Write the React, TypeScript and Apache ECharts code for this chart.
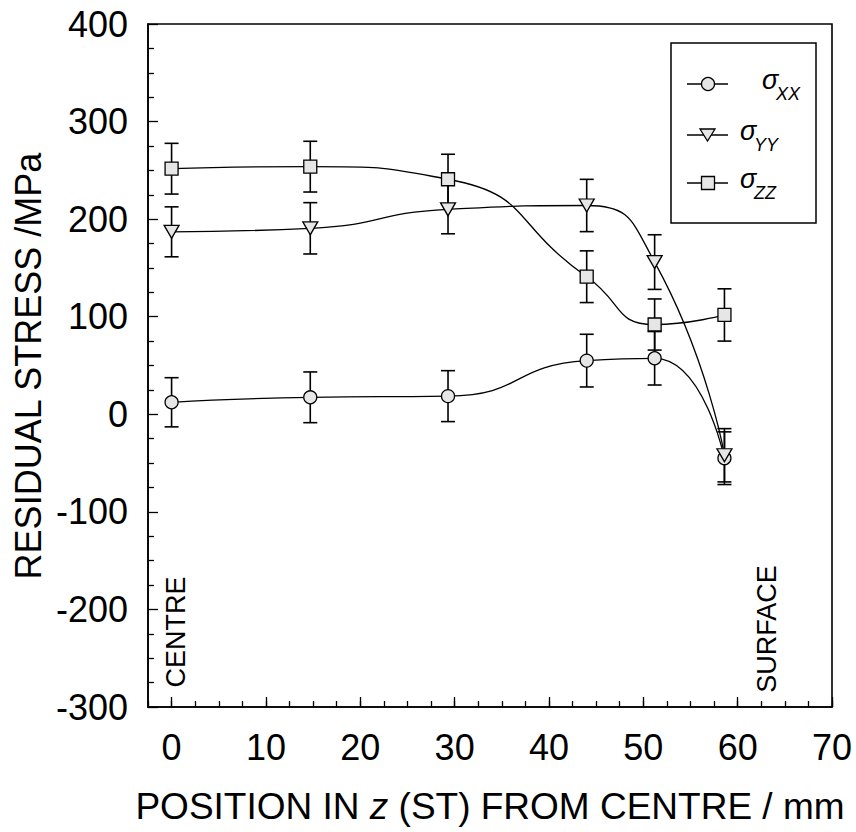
import React, { useEffect, useRef } from "react";
import * as echarts from "echarts";

// positions (mm from centre)
const xPos = [0, 14.7, 29.3, 44.0, 51.2, 58.6];
// sigma XX
const sxx = [12.3, 17.4, 18.6, 55, 57.4, -45];
const sxxErr = [25.2, 26, 26.1, 27, 27.4, 27];
// sigma YY
const syy = [187, 190.6, 210, 214, 156, -42];
const syyErr = [25.6, 26.3, 25, 26.8, 28, 27.3];
// sigma ZZ
const szz = [251.7, 253.8, 240.9, 141, 92, 101.8];
const szzErr = [26, 26, 25.6, 26.5, 26.2, 26.8];

const xMajorTicks = [0, 10, 20, 30, 40, 50, 60, 70];

const FONT = "Liberation Sans, Arial, Helvetica, sans-serif";
const FILL = "#e6e6e6";

function errData(vals: number[], errs: number[]) {
  return xPos.map((x, i) => [x, vals[i] - errs[i], vals[i] + errs[i]]);
}

function errSeries(vals: number[], errs: number[]) {
  return {
    type: "custom",
    z: 2,
    silent: true,
    data: errData(vals, errs),
    encode: { x: 0, y: [1, 2] },
    renderItem: (params: any, api: any) => {
      const x = api.value(0);
      const p1 = api.coord([x, api.value(1)]);
      const p2 = api.coord([x, api.value(2)]);
      const hw = 7;
      const st = { stroke: "#000", lineWidth: 1.6 };
      return {
        type: "group",
        children: [
          { type: "line", shape: { x1: p1[0], y1: p1[1], x2: p2[0], y2: p2[1] }, style: st },
          { type: "line", shape: { x1: p1[0] - hw, y1: p1[1], x2: p1[0] + hw, y2: p1[1] }, style: st },
          { type: "line", shape: { x1: p2[0] - hw, y1: p2[1], x2: p2[0] + hw, y2: p2[1] }, style: st },
        ],
      };
    },
  };
}

function lineSeries(name: string, vals: number[], symbol: string, size: any, rotate = 0) {
  return {
    name,
    type: "line",
    z: 3,
    smooth: 0.55,
    data: xPos.map((x, i) => [x, vals[i]]),
    symbol,
    symbolSize: size,
    symbolRotate: rotate,
    showAllSymbol: true,
    lineStyle: { color: "#000", width: 1.3 },
    itemStyle: { color: FILL, borderColor: "#000", borderWidth: 1.3 },
  };
}

function legendRow(y: number, symbol: any, sx: number, sub: string) {
  return [
    { type: "line", shape: { x1: 687, y1: y, x2: 728, y2: y }, style: { stroke: "#000", lineWidth: 1.4 } },
    symbol,
    {
      type: "text",
      x: sx,
      y: y - 4,
      style: { text: "σ", font: `italic 27px ${FONT}`, fill: "#000", textAlign: "left", textVerticalAlign: "middle" },
    },
    {
      type: "text",
      x: sx + 14,
      y: y + 10,
      style: { text: sub, font: `italic 18px ${FONT}`, fill: "#000", textAlign: "left", textVerticalAlign: "middle" },
    },
  ];
}

export default function App() {
  const ref = useRef<HTMLDivElement>(null);
  useEffect(() => {
    if (!ref.current) return;
    document.body.style.margin = "0";
    const chart = echarts.init(ref.current, null, { renderer: "svg" });
    const axisLabelStyle = { fontFamily: FONT, fontSize: 36, color: "#000" };
    const option: any = {
      animation: false,
      backgroundColor: "#fff",
      grid: {
        left: 148,
        top: 24,
        right: 24,
        bottom: 125,
        show: true,
        borderColor: "#000",
        borderWidth: 1.6,
        containLabel: false,
      },
      xAxis: [
        {
          type: "value",
          min: -2.5,
          max: 70,
          interval: 2.5,
          position: "bottom",
          splitLine: { show: false },
          axisLine: { show: true, onZero: false, lineStyle: { color: "#000", width: 1.6 } },
          axisTick: { show: true, inside: true, length: 6, lineStyle: { color: "#000", width: 1.3 } },
          axisLabel: {
            ...axisLabelStyle,
            margin: 22,
            showMinLabel: true,
            showMaxLabel: true,
            formatter: (v: number) => (Math.abs(v % 10) < 1e-6 ? String(v) : ""),
          },
        },
        {
          type: "value",
          min: -2.5,
          max: 70,
          position: "bottom",
          offset: 0,
          splitLine: { show: false },
          axisLine: { show: false, onZero: false },
          axisLabel: { show: false },
          axisTick: {
            show: true,
            inside: true,
            length: 10,
            customValues: xMajorTicks,
            lineStyle: { color: "#000", width: 1.3 },
          },
        },
      ],
      yAxis: {
        type: "value",
        min: -300,
        max: 400,
        interval: 100,
        splitLine: { show: false },
        axisLine: { show: true, onZero: false, lineStyle: { color: "#000", width: 1.6 } },
        axisTick: { show: true, inside: true, length: 10, lineStyle: { color: "#000", width: 1.3 } },
        minorTick: { show: true, splitNumber: 4, length: 6, lineStyle: { color: "#000", width: 1.3 } },
        axisLabel: { ...axisLabelStyle, margin: 20 },
      },
      series: [
        errSeries(sxx, sxxErr),
        errSeries(syy, syyErr),
        errSeries(szz, szzErr),
        lineSeries("σXX", sxx, "circle", 13),
        lineSeries("σYY", syy, "triangle", [15, 13], 180),
        lineSeries("σZZ", szz, "rect", 13),
      ],
      graphic: [
        {
          type: "text",
          x: 28,
          y: 366,
          rotation: Math.PI / 2,
          style: {
            text: "RESIDUAL STRESS /MPa",
            font: `36px ${FONT}`,
            fill: "#000",
            textAlign: "center",
            textVerticalAlign: "middle",
          },
        },
        {
          type: "text",
          x: 490,
          y: 806,
          style: {
            text: "POSITION IN {i|z} (ST) FROM CENTRE / mm",
            font: `37px ${FONT}`,
            fill: "#000",
            textAlign: "center",
            textVerticalAlign: "middle",
            rich: { i: { fontStyle: "italic", fontSize: 37, fontFamily: FONT } },
          },
        },
        {
          type: "text",
          x: 176,
          y: 632,
          rotation: Math.PI / 2,
          style: { text: "CENTRE", font: `27px ${FONT}`, fill: "#000", textAlign: "center", textVerticalAlign: "middle" },
        },
        {
          type: "text",
          x: 767,
          y: 629,
          rotation: Math.PI / 2,
          style: { text: "SURFACE", font: `27px ${FONT}`, fill: "#000", textAlign: "center", textVerticalAlign: "middle" },
        },
        {
          type: "group",
          children: [
            { type: "rect", shape: { x: 671, y: 43, width: 145, height: 180 }, style: { fill: "#fff", stroke: "#000", lineWidth: 1.5 } },
            ...legendRow(84, { type: "circle", shape: { cx: 708, cy: 84, r: 6.5 }, style: { fill: FILL, stroke: "#000", lineWidth: 1.3 } }, 762, "XX"),
            ...legendRow(
              135,
              { type: "polygon", shape: { points: [[700, 129], [715, 129], [707.5, 141]] }, style: { fill: FILL, stroke: "#000", lineWidth: 1.3 } },
              740,
              "YY"
            ),
            ...legendRow(183, { type: "rect", shape: { x: 701.5, y: 176.5, width: 13, height: 13 }, style: { fill: FILL, stroke: "#000", lineWidth: 1.3 } }, 740, "ZZ"),
          ],
        },
      ],
    };
    chart.setOption(option);
    return () => chart.dispose();
  }, []);
  return <div ref={ref} style={{ width: 856, height: 832 }} />;
}
